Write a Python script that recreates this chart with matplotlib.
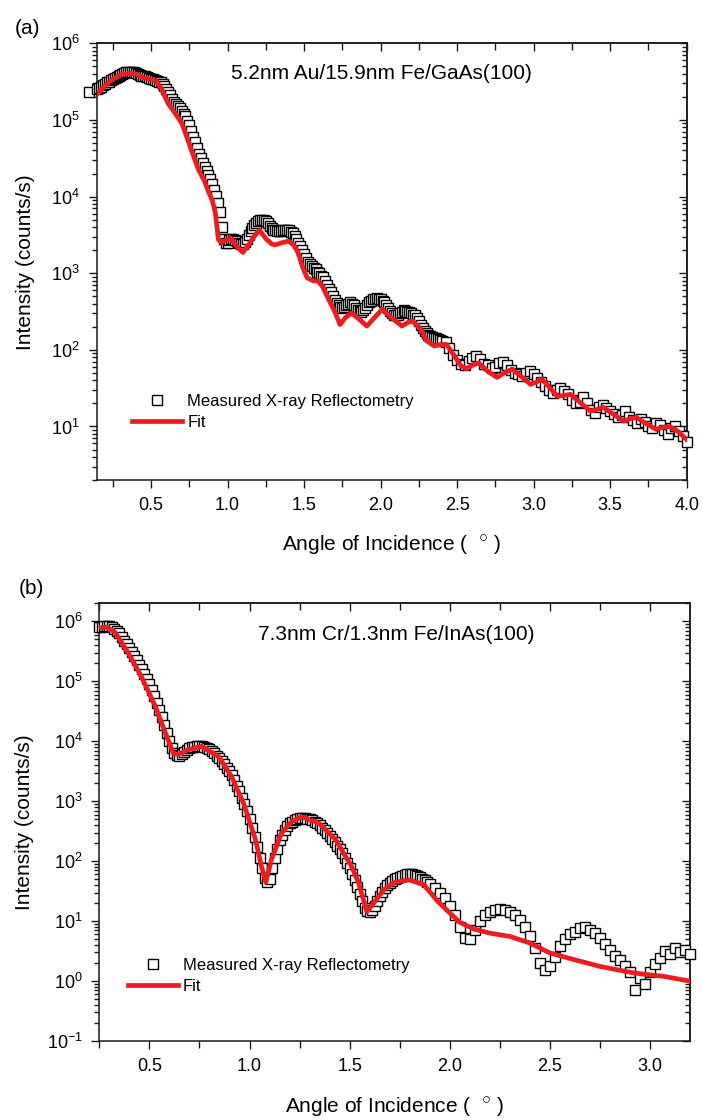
import numpy as np
import matplotlib
matplotlib.use("Agg")
import matplotlib.pyplot as plt
from matplotlib.ticker import MultipleLocator, FormatStrFormatter, LogLocator, NullFormatter

plt.rcParams['font.family'] = ['Liberation Sans', 'DejaVu Sans']
plt.rcParams['mathtext.fontset'] = 'custom'
plt.rcParams['mathtext.rm'] = 'Liberation Sans'
plt.rcParams['mathtext.it'] = 'Liberation Sans:italic'
plt.rcParams['mathtext.bf'] = 'Liberation Sans:bold'

# ---------------- Panel (a) data: 5.2nm Au/15.9nm Fe/GaAs(100) ----------------
angle_a_meas = [0.095,
    0.150, 0.175, 0.200, 0.225, 0.250, 0.275, 0.300, 0.325, 0.350, 0.375,
    0.400, 0.425, 0.450, 0.475, 0.500, 0.525, 0.550, 0.575, 0.600, 0.625,
    0.650, 0.675, 0.700, 0.725, 0.750, 0.775, 0.800, 0.825, 0.850, 0.875,
    0.900, 0.925, 0.950, 0.975, 1.000, 1.025, 1.050, 1.075, 1.100, 1.125,
    1.150, 1.175, 1.200, 1.225, 1.250, 1.275, 1.300, 1.325, 1.350, 1.375,
    1.400, 1.425, 1.450, 1.475, 1.500, 1.525, 1.550, 1.575, 1.600, 1.625,
    1.650, 1.675, 1.700, 1.725, 1.750, 1.775, 1.800, 1.825, 1.850, 1.875,
    1.900, 1.925, 1.950, 1.975, 2.000, 2.025, 2.050, 2.075, 2.100, 2.125,
    2.150, 2.175, 2.200, 2.225, 2.250, 2.275, 2.300, 2.325, 2.350, 2.375,
    2.400, 2.425, 2.450, 2.475, 2.500, 2.525, 2.550, 2.575, 2.600, 2.625,
    2.650, 2.675, 2.700, 2.725, 2.750, 2.775, 2.800, 2.825, 2.850, 2.875,
    2.900, 2.925, 2.950, 2.975, 3.000, 3.025, 3.050, 3.075, 3.100, 3.125,
    3.150, 3.175, 3.200, 3.225, 3.250, 3.275, 3.300, 3.325, 3.350, 3.375,
    3.400, 3.425, 3.450, 3.475, 3.500, 3.525, 3.550, 3.575, 3.600, 3.625,
    3.650, 3.675, 3.700, 3.725, 3.750, 3.775, 3.800, 3.825, 3.850, 3.875,
    3.900, 3.925, 3.950, 3.975, 4.000]
log_int_a_meas = [5.37,
    5.40, 5.43, 5.47, 5.50, 5.54, 5.56, 5.59, 5.61, 5.62, 5.62,
    5.61, 5.59, 5.57, 5.56, 5.54, 5.52, 5.50, 5.47, 5.41, 5.32,
    5.24, 5.18, 5.12, 5.05, 4.93, 4.78, 4.63, 4.50, 4.38, 4.28,
    4.16, 4.01, 3.80, 3.45, 3.40, 3.45, 3.44, 3.40, 3.38, 3.45,
    3.55, 3.63, 3.68, 3.70, 3.68, 3.62, 3.57, 3.55, 3.55, 3.57,
    3.56, 3.52, 3.45, 3.35, 3.25, 3.15, 3.10, 3.05, 3.00, 2.95,
    2.85, 2.75, 2.65, 2.58, 2.55, 2.58, 2.62, 2.58, 2.52, 2.50,
    2.55, 2.62, 2.66, 2.68, 2.66, 2.62, 2.55, 2.48, 2.45, 2.48,
    2.52, 2.50, 2.48, 2.45, 2.38, 2.28, 2.22, 2.18, 2.16, 2.14,
    2.12, 2.10, 2.02, 1.93, 1.87, 1.82, 1.80, 1.86, 1.90, 1.92,
    1.88, 1.82, 1.80, 1.76, 1.78, 1.83, 1.84, 1.80, 1.74, 1.70,
    1.68, 1.66, 1.70, 1.72, 1.68, 1.63, 1.58, 1.53, 1.48, 1.44,
    1.47, 1.50, 1.46, 1.42, 1.35, 1.30, 1.32, 1.38, 1.30, 1.22,
    1.18, 1.26, 1.28, 1.24, 1.20, 1.16, 1.12, 1.15, 1.20, 1.12,
    1.08, 1.05, 1.10, 1.06, 1.00, 0.98, 1.04, 1.02, 0.95, 0.90,
    0.98, 1.00, 0.94, 0.88, 0.80]
# additional scan points read in the dense (solid black) part of the band
angle_a_meas2 = [
    0.1625, 0.1875, 0.2125, 0.2375, 0.2625, 0.2875, 0.3125, 0.3375, 0.3625, 0.3875,
    0.4125, 0.4375, 0.4625, 0.4875, 0.5125, 0.5375, 0.5625, 0.5875, 0.6125, 0.6375,
    0.6625, 0.6875, 0.7125, 0.7375, 0.7625, 0.7875, 0.8125, 0.8375, 0.8625, 0.8875,
    0.9125, 0.9375, 0.9625, 0.9875, 1.0125, 1.0375, 1.0625, 1.0875, 1.1125, 1.1375,
    1.1625, 1.1875, 1.2125, 1.2375, 1.2625, 1.2875, 1.3125, 1.3375, 1.3625, 1.3875,
    1.4125, 1.4375, 1.4625, 1.4875, 1.5125, 1.5375, 1.5625, 1.5875, 1.6125, 1.6375,
    1.6625, 1.6875, 1.7125, 1.7375, 1.7625, 1.7875, 1.8125, 1.8375, 1.8625, 1.8875,
    1.9125, 1.9375, 1.9625, 1.9875, 2.0125, 2.0375, 2.0625, 2.0875, 2.1125, 2.1375,
    2.1625, 2.1875, 2.2125, 2.2375, 2.2625, 2.2875, 2.3125, 2.3375, 2.3625, 2.3875]
log_int_a_meas2 = [
    5.42, 5.45, 5.49, 5.52, 5.55, 5.58, 5.60, 5.62, 5.62, 5.62,
    5.60, 5.58, 5.57, 5.55, 5.53, 5.51, 5.50, 5.44, 5.36, 5.28,
    5.21, 5.15, 5.08, 4.99, 4.85, 4.71, 4.56, 4.44, 4.33, 4.23,
    4.08, 3.92, 3.60, 3.40, 3.43, 3.45, 3.42, 3.38, 3.41, 3.50,
    3.59, 3.66, 3.69, 3.69, 3.65, 3.59, 3.56, 3.55, 3.56, 3.57,
    3.54, 3.49, 3.40, 3.30, 3.20, 3.12, 3.07, 3.02, 2.97, 2.90,
    2.80, 2.70, 2.61, 2.56, 2.56, 2.60, 2.60, 2.55, 2.51, 2.52,
    2.58, 2.64, 2.67, 2.67, 2.64, 2.58, 2.51, 2.46, 2.46, 2.50,
    2.51, 2.49, 2.46, 2.42, 2.33, 2.25, 2.20, 2.17, 2.15, 2.13]

angle_a_fit = [0.145, 0.20, 0.25, 0.30, 0.35, 0.40, 0.45, 0.50, 0.53, 0.57,
    0.61, 0.66, 0.70, 0.73, 0.77, 0.81, 0.85, 0.87, 0.90, 0.92,
    0.94, 0.96, 0.99, 1.02, 1.06, 1.10, 1.14, 1.18, 1.21, 1.25,
    1.29, 1.31, 1.36, 1.40, 1.44, 1.46, 1.49, 1.52, 1.56, 1.59,
    1.62, 1.66, 1.70, 1.735, 1.77, 1.81, 1.86, 1.91, 1.96, 2.01,
    2.07, 2.14, 2.18, 2.21, 2.26, 2.30, 2.35, 2.39, 2.43, 2.48,
    2.52, 2.56, 2.60, 2.64, 2.70, 2.76, 2.81, 2.86, 2.92, 2.98,
    3.02, 3.05, 3.10, 3.15, 3.19, 3.24, 3.30, 3.37, 3.41, 3.455,
    3.52, 3.59, 3.63, 3.67, 3.74, 3.80, 3.85, 3.89, 3.94, 4.00]
log_int_a_fit = [5.33, 5.45, 5.53, 5.59, 5.61, 5.60, 5.55, 5.53, 5.52, 5.40,
    5.22, 5.08, 4.96, 4.80, 4.57, 4.35, 4.20, 4.09, 3.95, 3.79,
    3.44, 3.40, 3.43, 3.46, 3.35, 3.27, 3.38, 3.50, 3.56, 3.45,
    3.38, 3.37, 3.40, 3.42, 3.35, 3.27, 3.08, 2.94, 2.90, 2.90,
    2.83, 2.66, 2.50, 2.33, 2.42, 2.48, 2.40, 2.31, 2.42, 2.53,
    2.42, 2.31, 2.36, 2.375, 2.28, 2.12, 2.05, 2.07, 2.07, 1.93,
    1.80, 1.75, 1.80, 1.83, 1.72, 1.64, 1.70, 1.75, 1.65, 1.55,
    1.58, 1.62, 1.52, 1.40, 1.40, 1.42, 1.32, 1.20, 1.22, 1.25,
    1.16, 1.07, 1.10, 1.12, 1.03, 0.965, 0.99, 1.00, 0.94, 0.83]

# ---------------- Panel (b) data: 7.3nm Cr/1.3nm Fe/InAs(100) ----------------
angle_b_meas = [
    0.250, 0.275, 0.300, 0.325, 0.350, 0.375, 0.400, 0.425, 0.450, 0.475,
    0.500, 0.525, 0.550, 0.575, 0.600, 0.625, 0.650, 0.675, 0.700, 0.725,
    0.750, 0.775, 0.800, 0.825, 0.850, 0.875, 0.900, 0.925, 0.950, 0.975,
    1.000, 1.025, 1.050, 1.075, 1.100, 1.125, 1.150, 1.175, 1.200, 1.225,
    1.250, 1.275, 1.300, 1.325, 1.350, 1.375, 1.400, 1.425, 1.450, 1.475,
    1.500, 1.525, 1.550, 1.575, 1.600, 1.625, 1.650, 1.675, 1.700, 1.725,
    1.750, 1.775, 1.800, 1.825, 1.850, 1.875, 1.900, 1.925, 1.950, 1.975,
    2.000, 2.025, 2.050, 2.075, 2.100, 2.125, 2.150, 2.175, 2.200, 2.225,
    2.250, 2.275, 2.300, 2.325, 2.350, 2.375, 2.400, 2.425, 2.450, 2.475,
    2.500, 2.525, 2.550, 2.575, 2.600, 2.625, 2.650, 2.675, 2.700, 2.725,
    2.750, 2.775, 2.800, 2.825, 2.850, 2.875, 2.900, 2.925, 2.950, 2.975,
    3.000, 3.025, 3.050, 3.075, 3.100, 3.125, 3.150, 3.175, 3.200]
log_int_b_meas = [
    5.90, 5.92, 5.92, 5.88, 5.80, 5.68, 5.55, 5.42, 5.28, 5.12,
    4.95, 4.75, 4.52, 4.28, 4.00, 3.80, 3.76, 3.82, 3.88, 3.91,
    3.92, 3.91, 3.87, 3.80, 3.72, 3.62, 3.50, 3.35, 3.17, 2.95,
    2.70, 2.40, 2.05, 1.72, 1.70, 2.05, 2.35, 2.52, 2.63, 2.68,
    2.72, 2.72, 2.70, 2.66, 2.60, 2.52, 2.42, 2.32, 2.20, 2.05,
    1.88, 1.68, 1.45, 1.22, 1.15, 1.25, 1.42, 1.55, 1.64, 1.70,
    1.74, 1.77, 1.78, 1.77, 1.74, 1.68, 1.62, 1.55, 1.47, 1.38,
    1.25, 1.10, 0.90, 0.72, 0.70, 0.85, 1.00, 1.10, 1.15, 1.18,
    1.20, 1.18, 1.15, 1.10, 1.02, 0.90, 0.75, 0.55, 0.30, 0.18,
    0.25, 0.40, 0.58, 0.70, 0.78, 0.82, 0.88, 0.90, 0.85, 0.80,
    0.72, 0.62, 0.52, 0.42, 0.35, 0.25, 0.15, -0.15, 0.05, -0.05,
    0.15, 0.28, 0.38, 0.50, 0.45, 0.55, 0.48, 0.52, 0.45]
angle_b_meas2 = [
    0.2625, 0.2875, 0.3125, 0.3375, 0.3625, 0.3875, 0.4125, 0.4375, 0.4625, 0.4875,
    0.5125, 0.5375, 0.5625, 0.5875, 0.6125, 0.6375, 0.6625, 0.6875, 0.7125, 0.7375,
    0.7625, 0.7875, 0.8125, 0.8375, 0.8625, 0.8875, 0.9125, 0.9375, 0.9625, 0.9875,
    1.0125, 1.0375, 1.0625, 1.0875, 1.1125, 1.1375, 1.1625, 1.1875, 1.2125, 1.2375,
    1.2625, 1.2875, 1.3125, 1.3375, 1.3625, 1.3875, 1.4125, 1.4375, 1.4625, 1.4875,
    1.5125, 1.5375, 1.5625, 1.5875, 1.6125, 1.6375, 1.6625, 1.6875, 1.7125, 1.7375,
    1.7625, 1.7875, 1.8125, 1.8375, 1.8625, 1.8875]
log_int_b_meas2 = [
    5.91, 5.92, 5.90, 5.84, 5.74, 5.62, 5.49, 5.35, 5.20, 5.04,
    4.85, 4.64, 4.40, 4.14, 3.88, 3.77, 3.79, 3.85, 3.90, 3.92,
    3.92, 3.89, 3.84, 3.76, 3.67, 3.56, 3.43, 3.26, 3.06, 2.83,
    2.55, 2.23, 1.88, 1.66, 1.88, 2.21, 2.44, 2.58, 2.66, 2.70,
    2.72, 2.71, 2.68, 2.63, 2.56, 2.47, 2.37, 2.26, 2.13, 1.97,
    1.78, 1.57, 1.33, 1.17, 1.19, 1.34, 1.49, 1.60, 1.67, 1.72,
    1.76, 1.78, 1.78, 1.76, 1.71, 1.65]

angle_b_fit = [0.25, 0.287, 0.33, 0.395, 0.46, 0.53, 0.58, 0.62, 0.645, 0.695,
    0.76, 0.845, 0.91, 0.97, 1.03, 1.06, 1.082, 1.11, 1.16, 1.21,
    1.26, 1.345, 1.43, 1.51, 1.545, 1.565, 1.587, 1.62, 1.67, 1.72,
    1.795, 1.87, 1.94, 2.05, 2.12, 2.20, 2.30, 2.40, 2.50, 2.59,
    2.75, 2.92, 3.07, 3.20]
log_int_b_fit = [5.89, 5.906, 5.81, 5.47, 5.08, 4.58, 4.14, 3.80, 3.78, 3.86,
    3.915, 3.75, 3.415, 2.97, 2.36, 1.91, 1.65, 2.03, 2.47, 2.66,
    2.74, 2.64, 2.36, 1.91, 1.64, 1.40, 1.16, 1.30, 1.52, 1.64,
    1.69, 1.61, 1.33, 0.98, 0.87, 0.80, 0.745, 0.635, 0.47, 0.386,
    0.245, 0.135, 0.078, 0.0]

labels_legend = ["Measured X-ray Reflectometry", "Fit"]
sample_a = "5.2nm Au/15.9nm Fe/GaAs(100)"
sample_b = "7.3nm Cr/1.3nm Fe/InAs(100)"

RED = '#ee1c1c'
AXC = '#1a1a1a'

fig = plt.figure(figsize=(7.03, 11.2), dpi=100)
ax_a = fig.add_axes([0.1376, 0.5714, 0.8392, 0.3899])
ax_b = fig.add_axes([0.1413, 0.0705, 0.8402, 0.3908])


def style_axes(ax, xlim, ylim):
    ax.set_yscale('log')
    ax.set_xlim(*xlim)
    ax.set_ylim(*ylim)
    ax.xaxis.set_major_locator(MultipleLocator(0.5))
    ax.xaxis.set_minor_locator(MultipleLocator(0.25))
    ax.xaxis.set_major_formatter(FormatStrFormatter('%.1f'))
    ax.yaxis.set_major_locator(LogLocator(base=10, numticks=20))
    ax.yaxis.set_minor_locator(LogLocator(base=10, subs=np.arange(2, 10), numticks=20))
    ax.yaxis.set_minor_formatter(NullFormatter())
    for s in ax.spines.values():
        s.set_color(AXC)
        s.set_linewidth(1.1)
    ax.tick_params(which='both', direction='out', top=False, right=False,
                   color=AXC, labelsize=13, width=1.0)
    ax.tick_params(which='major', length=6, pad=6)
    ax.tick_params(axis='y', which='minor', length=3.5)
    ax.tick_params(axis='x', which='minor', length=5)
    secx = ax.secondary_xaxis('top')
    secx.xaxis.set_major_locator(MultipleLocator(0.5))
    secx.xaxis.set_minor_locator(MultipleLocator(0.25))
    secx.tick_params(which='both', direction='in', labeltop=False, color=AXC, width=1.0)
    secx.tick_params(which='major', length=6)
    secx.tick_params(which='minor', length=5)
    secx.spines['top'].set_color(AXC)
    secx.spines['top'].set_linewidth(1.1)
    secy = ax.secondary_yaxis('right')
    secy.yaxis.set_major_locator(LogLocator(base=10, numticks=20))
    secy.yaxis.set_minor_locator(LogLocator(base=10, subs=np.arange(2, 10), numticks=20))
    secy.yaxis.set_major_formatter(NullFormatter())
    secy.yaxis.set_minor_formatter(NullFormatter())
    secy.tick_params(which='both', direction='in', labelright=False, color=AXC, width=1.0)
    secy.tick_params(which='major', length=6)
    secy.tick_params(which='minor', length=3.5)
    secy.spines['right'].set_color(AXC)
    secy.spines['right'].set_linewidth(1.1)
    ax.set_ylabel("Intensity (counts/s)", fontsize=15)
    ax.set_xlabel(r"Angle of Incidence (  $^{\bigcirc}$ )", fontsize=15)


def draw(ax, xm, ym, xm2, ym2, xf, yf):
    x_all = np.array(list(xm) + list(xm2))
    y_all = np.power(10.0, np.array(list(ym) + list(ym2)))
    order = np.argsort(x_all, kind='stable')
    ax.plot(x_all[order], y_all[order], linestyle='none', marker='s', markersize=6.5,
            markerfacecolor='white', markeredgecolor='black', markeredgewidth=1.0,
            label=labels_legend[0], clip_on=False, zorder=3)
    ax.plot(xf, np.power(10.0, yf), color=RED, linewidth=3.4, label=labels_legend[1],
            zorder=4, solid_joinstyle='round')


draw(ax_a, angle_a_meas, log_int_a_meas, angle_a_meas2, log_int_a_meas2,
     angle_a_fit, log_int_a_fit)
style_axes(ax_a, (0.145, 4.0), (2.0, 1e6))
ax_a.text(0.482, 0.932, sample_a, transform=ax_a.transAxes, ha='center', va='center', fontsize=15)
ax_a.yaxis.set_label_coords(-0.104, 0.5)
ax_a.xaxis.set_label_coords(0.5, -0.121)
ax_a.legend(loc='upper left', bbox_to_anchor=(0.06, 0.197), frameon=False, fontsize=12,
            borderpad=0, borderaxespad=0, handlelength=3.0, handletextpad=0.3,
            labelspacing=0.35, markerscale=1.0)
fig.text(28 / 703, 1 - 28 / 1120, "(a)", fontsize=15, ha='center', va='center')

draw(ax_b, angle_b_meas, log_int_b_meas, angle_b_meas2, log_int_b_meas2,
     angle_b_fit, log_int_b_fit)
style_axes(ax_b, (0.25, 3.2), (0.1, 2.0e6))
ax_b.text(0.503, 0.928, sample_b, transform=ax_b.transAxes, ha='center', va='center', fontsize=15)
ax_b.yaxis.set_label_coords(-0.110, 0.5)
ax_b.xaxis.set_label_coords(0.5, -0.123)
ax_b.legend(loc='upper left', bbox_to_anchor=(0.048, 0.189), frameon=False, fontsize=12,
            borderpad=0, borderaxespad=0, handlelength=3.0, handletextpad=0.3,
            labelspacing=0.35, markerscale=1.0)
fig.text(31 / 703, 1 - 588 / 1120, "(b)", fontsize=15, ha='center', va='center')

fig.savefig("out.png", dpi=100)
